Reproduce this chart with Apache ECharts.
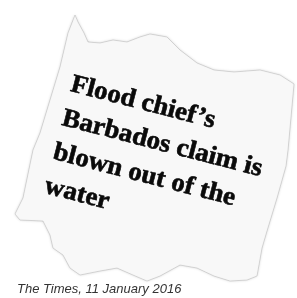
<!DOCTYPE html>
<html>
<head>
<meta charset="utf-8">
<script src="https://cdn.jsdelivr.net/npm/echarts@6/dist/echarts.min.js"></script>
<style>
html,body{margin:0;padding:0;background:#fff;}
#chart{width:297px;height:298px;}
</style>
</head>
<body>
<div id="chart"></div>
<script>
// Content
const headlineLines = ["Flood chief\u2019s", "Barbados claim is", "blown out of the", "water"];
const captionText = "The Times, 11 January 2016";
// Torn-paper outline (decorative shape)
const paperOutline = [
  [75,15],[78,22],[84,33],[88,42],[100,43],[113,40],[127,42],[140,37],[150,34],
  [167,37],[180,50],[197,63],[214,70],[234,72],[260,70],[280,75],[294,84],
  [291,117],[288,150],[286,166],[277,198],[267,231],[262,248],[257,276],
  [247,280],[230,281],[214,276],[197,268],[180,265],[160,276],[147,281],
  [133,275],[117,268],[100,271],[80,275],[70,268],[63,255],[53,248],[50,235],
  [43,221],[20,220],[15,214],[23,198],[33,150],[40,133],[50,100],[60,67],[68,33]
];

const chart = echarts.init(document.getElementById('chart'), null, {renderer:'canvas'});
const angle = -14.5 * Math.PI / 180;
const lineGap = 35;

const textChildren = headlineLines.map((t, i) => ({
  type: 'text',
  x: 0,
  y: i * lineGap - 9,
  scaleX: 1.04,
  style: {
    text: t,
    font: 'bold 26px "Liberation Serif", "DejaVu Serif", serif',
    fill: '#0a0a0a',
    stroke: '#0a0a0a',
    lineWidth: 0.6,
    align: 'left',
    verticalAlign: 'middle'
  }
}));

chart.setOption({
  backgroundColor: '#ffffff',
  graphic: [
    {
      type: 'polygon',
      shape: { points: paperOutline },
      style: {
        fill: '#f8f8f8',
        stroke: 'rgba(0,0,0,0.12)',
        lineWidth: 1,
        shadowBlur: 3,
        shadowColor: 'rgba(0,0,0,0.18)'
      }
    },
    {
      type: 'group',
      x: 69,
      y: 93,
      rotation: angle,
      children: textChildren
    },
    {
      type: 'text',
      x: 17,
      y: 296,
      style: {
        text: captionText,
        font: 'italic 13px "Liberation Sans", Arial, sans-serif',
        fill: '#333',
        align: 'left',
        verticalAlign: 'bottom'
      }
    }
  ]
});
</script>
</body>
</html>
